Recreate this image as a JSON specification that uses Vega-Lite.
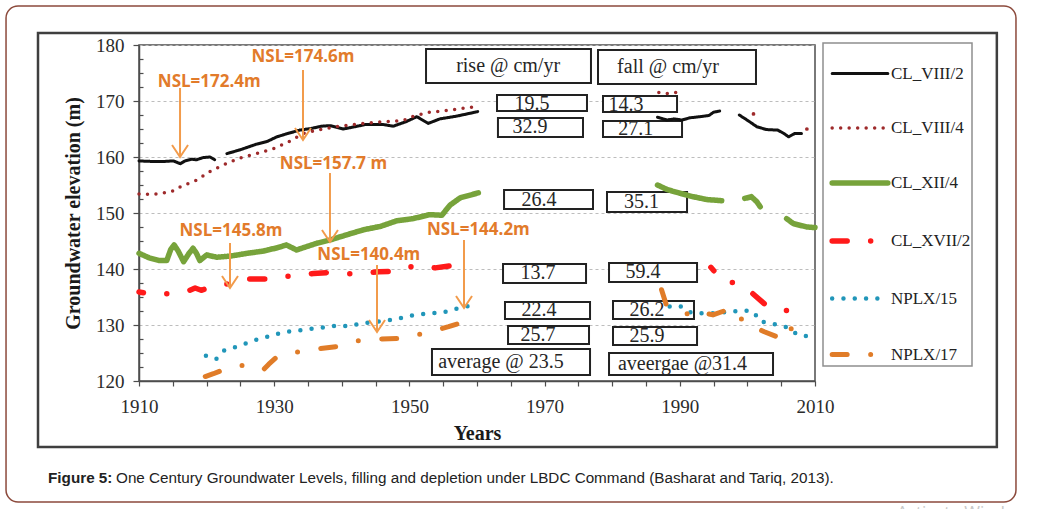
{
  "$schema": "https://vega.github.io/schema/vega-lite/v6.json",
  "width": 676,
  "height": 336,
  "autosize": {"type": "none"},
  "padding": {"left": 139, "top": 45, "right": 228, "bottom": 128},
  "background": "white",
  "datasets": {
    "levels": [
      {"well": "CL_VIII/2", "run": 1, "year": 1910, "level": 159.3},
      {"well": "CL_VIII/2", "run": 1, "year": 1912, "level": 159.2},
      {"well": "CL_VIII/2", "run": 1, "year": 1913.6, "level": 159.2},
      {"well": "CL_VIII/2", "run": 1, "year": 1915.1, "level": 159.3},
      {"well": "CL_VIII/2", "run": 1, "year": 1916.1, "level": 158.8},
      {"well": "CL_VIII/2", "run": 1, "year": 1916.8, "level": 159.3},
      {"well": "CL_VIII/2", "run": 1, "year": 1917.8, "level": 159.6},
      {"well": "CL_VIII/2", "run": 1, "year": 1918.5, "level": 159.5},
      {"well": "CL_VIII/2", "run": 1, "year": 1919.5, "level": 159.9},
      {"well": "CL_VIII/2", "run": 1, "year": 1920.5, "level": 160.0},
      {"well": "CL_VIII/2", "run": 1, "year": 1921.2, "level": 159.5},
      {"well": "CL_VIII/2", "run": 2, "year": 1923, "level": 160.6},
      {"well": "CL_VIII/2", "run": 2, "year": 1925, "level": 161.3},
      {"well": "CL_VIII/2", "run": 2, "year": 1927.4, "level": 162.3},
      {"well": "CL_VIII/2", "run": 2, "year": 1929, "level": 162.8},
      {"well": "CL_VIII/2", "run": 2, "year": 1930.4, "level": 163.6},
      {"well": "CL_VIII/2", "run": 2, "year": 1932, "level": 164.2},
      {"well": "CL_VIII/2", "run": 2, "year": 1933.8, "level": 164.8},
      {"well": "CL_VIII/2", "run": 2, "year": 1935.5, "level": 165.1},
      {"well": "CL_VIII/2", "run": 2, "year": 1937, "level": 165.5},
      {"well": "CL_VIII/2", "run": 2, "year": 1938.3, "level": 165.6},
      {"well": "CL_VIII/2", "run": 2, "year": 1940.2, "level": 165.0},
      {"well": "CL_VIII/2", "run": 2, "year": 1941.5, "level": 165.3},
      {"well": "CL_VIII/2", "run": 2, "year": 1943.5, "level": 165.8},
      {"well": "CL_VIII/2", "run": 2, "year": 1946.1, "level": 165.8},
      {"well": "CL_VIII/2", "run": 2, "year": 1947.6, "level": 165.5},
      {"well": "CL_VIII/2", "run": 2, "year": 1949.5, "level": 166.3},
      {"well": "CL_VIII/2", "run": 2, "year": 1951.1, "level": 167.2},
      {"well": "CL_VIII/2", "run": 2, "year": 1952.8, "level": 166.0},
      {"well": "CL_VIII/2", "run": 2, "year": 1954.5, "level": 166.8},
      {"well": "CL_VIII/2", "run": 2, "year": 1957, "level": 167.3},
      {"well": "CL_VIII/2", "run": 2, "year": 1960.1, "level": 168.1},
      {"well": "CL_VIII/2", "run": 3, "year": 1986.7, "level": 167.1},
      {"well": "CL_VIII/2", "run": 3, "year": 1988.1, "level": 166.6},
      {"well": "CL_VIII/2", "run": 3, "year": 1989.2, "level": 166.8},
      {"well": "CL_VIII/2", "run": 3, "year": 1990.3, "level": 166.6},
      {"well": "CL_VIII/2", "run": 3, "year": 1991.5, "level": 167.0},
      {"well": "CL_VIII/2", "run": 3, "year": 1993, "level": 167.2},
      {"well": "CL_VIII/2", "run": 3, "year": 1994.3, "level": 167.4},
      {"well": "CL_VIII/2", "run": 3, "year": 1995, "level": 168.0},
      {"well": "CL_VIII/2", "run": 3, "year": 1995.9, "level": 168.2},
      {"well": "CL_VIII/2", "run": 4, "year": 1998.8, "level": 167.5},
      {"well": "CL_VIII/2", "run": 4, "year": 2000.2, "level": 166.4},
      {"well": "CL_VIII/2", "run": 4, "year": 2001.4, "level": 165.4},
      {"well": "CL_VIII/2", "run": 4, "year": 2002.8, "level": 164.9},
      {"well": "CL_VIII/2", "run": 4, "year": 2004.5, "level": 164.8},
      {"well": "CL_VIII/2", "run": 4, "year": 2005.4, "level": 164.2},
      {"well": "CL_VIII/2", "run": 4, "year": 2006.1, "level": 163.6},
      {"well": "CL_VIII/2", "run": 4, "year": 2007, "level": 164.2},
      {"well": "CL_VIII/2", "run": 4, "year": 2008, "level": 164.2},

      {"well": "CL_VIII/4", "run": 1, "year": 1910, "level": 153.4},
      {"well": "CL_VIII/4", "run": 1, "year": 1912, "level": 153.3},
      {"well": "CL_VIII/4", "run": 1, "year": 1914.8, "level": 153.8},
      {"well": "CL_VIII/4", "run": 1, "year": 1916.3, "level": 154.8},
      {"well": "CL_VIII/4", "run": 1, "year": 1918.8, "level": 156.0},
      {"well": "CL_VIII/4", "run": 1, "year": 1920, "level": 157.1},
      {"well": "CL_VIII/4", "run": 1, "year": 1922.5, "level": 158.6},
      {"well": "CL_VIII/4", "run": 1, "year": 1924.9, "level": 159.8},
      {"well": "CL_VIII/4", "run": 1, "year": 1927.4, "level": 160.6},
      {"well": "CL_VIII/4", "run": 1, "year": 1929.9, "level": 161.5},
      {"well": "CL_VIII/4", "run": 1, "year": 1932.1, "level": 162.7},
      {"well": "CL_VIII/4", "run": 1, "year": 1934.3, "level": 164.2},
      {"well": "CL_VIII/4", "run": 1, "year": 1936.8, "level": 164.9},
      {"well": "CL_VIII/4", "run": 1, "year": 1939.2, "level": 165.4},
      {"well": "CL_VIII/4", "run": 1, "year": 1943.2, "level": 166.0},
      {"well": "CL_VIII/4", "run": 1, "year": 1946.1, "level": 166.3},
      {"well": "CL_VIII/4", "run": 1, "year": 1949.1, "level": 166.5},
      {"well": "CL_VIII/4", "run": 1, "year": 1950.6, "level": 167.3},
      {"well": "CL_VIII/4", "run": 1, "year": 1953, "level": 168.0},
      {"well": "CL_VIII/4", "run": 1, "year": 1955.5, "level": 168.3},
      {"well": "CL_VIII/4", "run": 1, "year": 1958, "level": 168.7},
      {"well": "CL_VIII/4", "run": 1, "year": 1960.2, "level": 169.0},
      {"well": "CL_VIII/4", "run": 2, "year": 1986.9, "level": 171.5},
      {"well": "CL_VIII/4", "run": 2, "year": 1988.3, "level": 171.3},
      {"well": "CL_VIII/4", "run": 2, "year": 1989.7, "level": 171.6},

      {"well": "CL_XII/4", "run": 1, "year": 1910, "level": 142.8},
      {"well": "CL_XII/4", "run": 1, "year": 1911.5, "level": 142.0},
      {"well": "CL_XII/4", "run": 1, "year": 1913, "level": 141.5},
      {"well": "CL_XII/4", "run": 1, "year": 1914.1, "level": 141.5},
      {"well": "CL_XII/4", "run": 1, "year": 1914.7, "level": 143.5},
      {"well": "CL_XII/4", "run": 1, "year": 1915.2, "level": 144.3},
      {"well": "CL_XII/4", "run": 1, "year": 1915.8, "level": 143.2},
      {"well": "CL_XII/4", "run": 1, "year": 1916.6, "level": 141.3},
      {"well": "CL_XII/4", "run": 1, "year": 1917.4, "level": 142.8},
      {"well": "CL_XII/4", "run": 1, "year": 1918.0, "level": 143.7},
      {"well": "CL_XII/4", "run": 1, "year": 1918.5, "level": 142.8},
      {"well": "CL_XII/4", "run": 1, "year": 1919.0, "level": 141.5},
      {"well": "CL_XII/4", "run": 1, "year": 1920, "level": 142.5},
      {"well": "CL_XII/4", "run": 1, "year": 1921.5, "level": 142.1},
      {"well": "CL_XII/4", "run": 1, "year": 1923.5, "level": 142.3},
      {"well": "CL_XII/4", "run": 1, "year": 1926, "level": 142.8},
      {"well": "CL_XII/4", "run": 1, "year": 1928.4, "level": 143.2},
      {"well": "CL_XII/4", "run": 1, "year": 1930.5, "level": 143.8},
      {"well": "CL_XII/4", "run": 1, "year": 1931.8, "level": 144.3},
      {"well": "CL_XII/4", "run": 1, "year": 1933.3, "level": 143.4},
      {"well": "CL_XII/4", "run": 1, "year": 1936.3, "level": 144.6},
      {"well": "CL_XII/4", "run": 1, "year": 1938.3, "level": 145.2},
      {"well": "CL_XII/4", "run": 1, "year": 1940.7, "level": 146.1},
      {"well": "CL_XII/4", "run": 1, "year": 1943.2, "level": 147.0},
      {"well": "CL_XII/4", "run": 1, "year": 1945.7, "level": 147.6},
      {"well": "CL_XII/4", "run": 1, "year": 1948.1, "level": 148.6},
      {"well": "CL_XII/4", "run": 1, "year": 1950.6, "level": 149.0},
      {"well": "CL_XII/4", "run": 1, "year": 1953, "level": 149.7},
      {"well": "CL_XII/4", "run": 1, "year": 1954.8, "level": 149.6},
      {"well": "CL_XII/4", "run": 1, "year": 1956, "level": 151.4},
      {"well": "CL_XII/4", "run": 1, "year": 1957.5, "level": 152.7},
      {"well": "CL_XII/4", "run": 1, "year": 1960.2, "level": 153.6},
      {"well": "CL_XII/4", "run": 2, "year": 1986.7, "level": 155.0},
      {"well": "CL_XII/4", "run": 2, "year": 1988.1, "level": 154.2},
      {"well": "CL_XII/4", "run": 2, "year": 1990.1, "level": 153.5},
      {"well": "CL_XII/4", "run": 2, "year": 1992, "level": 152.9},
      {"well": "CL_XII/4", "run": 2, "year": 1994, "level": 152.4},
      {"well": "CL_XII/4", "run": 2, "year": 1996.2, "level": 152.2},
      {"well": "CL_XII/4", "run": 3, "year": 1999.6, "level": 152.6},
      {"well": "CL_XII/4", "run": 3, "year": 2000.6, "level": 152.9},
      {"well": "CL_XII/4", "run": 3, "year": 2001.4, "level": 152.0},
      {"well": "CL_XII/4", "run": 3, "year": 2001.9, "level": 151.1},
      {"well": "CL_XII/4", "run": 4, "year": 2005.8, "level": 149.0},
      {"well": "CL_XII/4", "run": 4, "year": 2006.8, "level": 148.1},
      {"well": "CL_XII/4", "run": 4, "year": 2008.8, "level": 147.5},
      {"well": "CL_XII/4", "run": 4, "year": 2010, "level": 147.4},

      {"well": "CL_XVII/2", "run": 1, "year": 1910, "level": 135.9},
      {"well": "CL_XVII/2", "run": 1, "year": 1911.8, "level": 135.5},
      {"well": "CL_XVII/2", "run": 1, "year": 1914.6, "level": 135.6},
      {"well": "CL_XVII/2", "run": 1, "year": 1917.3, "level": 136.1},
      {"well": "CL_XVII/2", "run": 1, "year": 1918.3, "level": 136.6},
      {"well": "CL_XVII/2", "run": 1, "year": 1919.2, "level": 136.2},
      {"well": "CL_XVII/2", "run": 1, "year": 1920, "level": 136.5},
      {"well": "CL_XVII/2", "run": 1, "year": 1923, "level": 137.3},
      {"well": "CL_XVII/2", "run": 1, "year": 1925.9, "level": 138.2},
      {"well": "CL_XVII/2", "run": 1, "year": 1929.4, "level": 138.2},
      {"well": "CL_XVII/2", "run": 1, "year": 1932.6, "level": 138.8},
      {"well": "CL_XVII/2", "run": 1, "year": 1935.8, "level": 139.2},
      {"well": "CL_XVII/2", "run": 1, "year": 1938.4, "level": 139.4},
      {"well": "CL_XVII/2", "run": 1, "year": 1942, "level": 139.1},
      {"well": "CL_XVII/2", "run": 1, "year": 1945.5, "level": 139.5},
      {"well": "CL_XVII/2", "run": 1, "year": 1948.2, "level": 139.6},
      {"well": "CL_XVII/2", "run": 1, "year": 1950.8, "level": 140.6},
      {"well": "CL_XVII/2", "run": 1, "year": 1953.8, "level": 140.2},
      {"well": "CL_XVII/2", "run": 1, "year": 1956.8, "level": 140.7},
      {"well": "CL_XVII/2", "run": 2, "year": 1994.6, "level": 140.3},
      {"well": "CL_XVII/2", "run": 2, "year": 1996.4, "level": 137.8},
      {"well": "CL_XVII/2", "run": 2, "year": 1997.6, "level": 137.7},
      {"well": "CL_XVII/2", "run": 2, "year": 2000.4, "level": 136.0},
      {"well": "CL_XVII/2", "run": 2, "year": 2002.7, "level": 133.6},
      {"well": "CL_XVII/2", "run": 2, "year": 2005.6, "level": 132.6},
      {"well": "CL_XVII/2", "run": 2, "year": 2008.4, "level": 132.5},
      {"well": "CL_XVII/2", "run": 2, "year": 2009, "level": 131.9},

      {"well": "NPLX/15", "run": 1, "year": 1919.9, "level": 124.5},
      {"well": "NPLX/15", "run": 1, "year": 1921.4, "level": 123.9},
      {"well": "NPLX/15", "run": 1, "year": 1922.5, "level": 125.4},
      {"well": "NPLX/15", "run": 1, "year": 1924.1, "level": 126.0},
      {"well": "NPLX/15", "run": 1, "year": 1925.8, "level": 126.7},
      {"well": "NPLX/15", "run": 1, "year": 1927.4, "level": 127.4},
      {"well": "NPLX/15", "run": 1, "year": 1929, "level": 127.9},
      {"well": "NPLX/15", "run": 1, "year": 1930.7, "level": 128.5},
      {"well": "NPLX/15", "run": 1, "year": 1932.5, "level": 128.9},
      {"well": "NPLX/15", "run": 1, "year": 1934.2, "level": 129.1},
      {"well": "NPLX/15", "run": 1, "year": 1935.9, "level": 129.4},
      {"well": "NPLX/15", "run": 1, "year": 1937.6, "level": 129.6},
      {"well": "NPLX/15", "run": 1, "year": 1939.4, "level": 129.9},
      {"well": "NPLX/15", "run": 1, "year": 1941.1, "level": 129.8},
      {"well": "NPLX/15", "run": 1, "year": 1942.8, "level": 130.3},
      {"well": "NPLX/15", "run": 1, "year": 1944.7, "level": 130.5},
      {"well": "NPLX/15", "run": 1, "year": 1946.4, "level": 130.8},
      {"well": "NPLX/15", "run": 1, "year": 1948, "level": 131.0},
      {"well": "NPLX/15", "run": 1, "year": 1949.7, "level": 131.6},
      {"well": "NPLX/15", "run": 1, "year": 1951.5, "level": 131.9},
      {"well": "NPLX/15", "run": 1, "year": 1953.2, "level": 132.1},
      {"well": "NPLX/15", "run": 1, "year": 1954.9, "level": 132.2},
      {"well": "NPLX/15", "run": 1, "year": 1956.5, "level": 132.8},
      {"well": "NPLX/15", "run": 1, "year": 1960, "level": 133.7},
      {"well": "NPLX/15", "run": 2, "year": 1988.5, "level": 133.3},
      {"well": "NPLX/15", "run": 2, "year": 1990, "level": 133.4},
      {"well": "NPLX/15", "run": 2, "year": 1991.8, "level": 132.1},
      {"well": "NPLX/15", "run": 2, "year": 1994.9, "level": 132.1},
      {"well": "NPLX/15", "run": 2, "year": 1997.9, "level": 132.4},
      {"well": "NPLX/15", "run": 2, "year": 1999.4, "level": 132.6},
      {"well": "NPLX/15", "run": 2, "year": 2000.9, "level": 132.4},
      {"well": "NPLX/15", "run": 2, "year": 2001.9, "level": 130.6},
      {"well": "NPLX/15", "run": 2, "year": 2003.1, "level": 130.4},
      {"well": "NPLX/15", "run": 2, "year": 2005.8, "level": 129.6},
      {"well": "NPLX/15", "run": 2, "year": 2007.5, "level": 128.2},
      {"well": "NPLX/15", "run": 2, "year": 2009.6, "level": 127.9},

      {"well": "NPLX/17", "run": 1, "year": 1919.8, "level": 120.8},
      {"well": "NPLX/17", "run": 1, "year": 1921, "level": 121.3},
      {"well": "NPLX/17", "run": 1, "year": 1922.7, "level": 122.1},
      {"well": "NPLX/17", "run": 1, "year": 1925.7, "level": 122.9},
      {"well": "NPLX/17", "run": 1, "year": 1928.4, "level": 122.0},
      {"well": "NPLX/17", "run": 1, "year": 1929.2, "level": 123.0},
      {"well": "NPLX/17", "run": 1, "year": 1930.4, "level": 124.3},
      {"well": "NPLX/17", "run": 1, "year": 1933.6, "level": 125.2},
      {"well": "NPLX/17", "run": 1, "year": 1936.8, "level": 125.8},
      {"well": "NPLX/17", "run": 1, "year": 1939.7, "level": 126.2},
      {"well": "NPLX/17", "run": 1, "year": 1942.7, "level": 127.3},
      {"well": "NPLX/17", "run": 1, "year": 1945.9, "level": 127.5},
      {"well": "NPLX/17", "run": 1, "year": 1948.9, "level": 127.6},
      {"well": "NPLX/17", "run": 1, "year": 1952.1, "level": 128.5},
      {"well": "NPLX/17", "run": 1, "year": 1955.8, "level": 129.7},
      {"well": "NPLX/17", "run": 1, "year": 1958.7, "level": 130.8},
      {"well": "NPLX/17", "run": 2, "year": 1987.3, "level": 136.3},
      {"well": "NPLX/17", "run": 2, "year": 1988, "level": 133.6},
      {"well": "NPLX/17", "run": 2, "year": 1989.4, "level": 132.8},
      {"well": "NPLX/17", "run": 2, "year": 1992.2, "level": 131.5},
      {"well": "NPLX/17", "run": 2, "year": 1993.4, "level": 132.2},
      {"well": "NPLX/17", "run": 2, "year": 1994.9, "level": 131.8},
      {"well": "NPLX/17", "run": 2, "year": 1997.7, "level": 133.0},
      {"well": "NPLX/17", "run": 2, "year": 1999.6, "level": 130.4},
      {"well": "NPLX/17", "run": 2, "year": 2002.5, "level": 128.8},
      {"well": "NPLX/17", "run": 2, "year": 2005.6, "level": 127.3},
      {"well": "NPLX/17", "run": 2, "year": 2006.5, "level": 129.4},
      {"well": "NPLX/17", "run": 2, "year": 2007.3, "level": 128.8}
    ],
    "lone": [
      {"well": "CL_VIII/4", "year": 2000.9, "level": 167.7},
      {"well": "CL_VIII/4", "year": 2008.8, "level": 165.0}
    ],
    "rates": [
      {"label": "rise @ cm/yr", "x1": 1952.46, "x2": 1976.86, "y1": 179.29, "y2": 173.21, "tx": 1964.6, "ty": 176.25},
      {"label": "fall @ cm/yr", "x1": 1977.9, "x2": 2001.27, "y1": 179.11, "y2": 173.04, "tx": 1988.25, "ty": 176.07},
      {"label": "19.5", "x1": 1962.96, "x2": 1976.27, "y1": 171.07, "y2": 168.21, "tx": 1968.14, "ty": 169.5},
      {"label": "32.9", "x1": 1963.1, "x2": 1975.68, "y1": 166.96, "y2": 163.57, "tx": 1967.84, "ty": 165.27},
      {"label": "26.4", "x1": 1964.0, "x2": 1977.16, "y1": 154.11, "y2": 150.71, "tx": 1969.17, "ty": 152.41},
      {"label": "13.7", "x1": 1963.85, "x2": 1976.13, "y1": 140.89, "y2": 137.5, "tx": 1969.02, "ty": 139.2},
      {"label": "22.4", "x1": 1964.14, "x2": 1976.72, "y1": 134.11, "y2": 131.07, "tx": 1969.17, "ty": 132.59},
      {"label": "25.7", "x1": 1964.59, "x2": 1976.57, "y1": 129.82, "y2": 126.61, "tx": 1969.02, "ty": 128.21},
      {"label": "average @ 23.5", "x1": 1953.34, "x2": 1976.72, "y1": 125.71, "y2": 121.07, "tx": 1963.55, "ty": 123.39},
      {"label": "14.3", "x1": 1978.64, "x2": 1989.59, "y1": 170.89, "y2": 168.04, "tx": 1982.04, "ty": 169.32},
      {"label": "27.1", "x1": 1978.64, "x2": 1990.33, "y1": 166.43, "y2": 163.57, "tx": 1983.5, "ty": 165.0},
      {"label": "35.1", "x1": 1979.23, "x2": 1991.07, "y1": 153.75, "y2": 150.18, "tx": 1984.33, "ty": 151.96},
      {"label": "59.4", "x1": 1979.53, "x2": 1992.55, "y1": 141.07, "y2": 137.68, "tx": 1984.56, "ty": 139.38},
      {"label": "26.2", "x1": 1980.12, "x2": 1992.1, "y1": 134.29, "y2": 131.07, "tx": 1985.15, "ty": 132.68},
      {"label": "25.9", "x1": 1980.12, "x2": 1992.55, "y1": 129.64, "y2": 126.43, "tx": 1985.15, "ty": 128.04},
      {"label": "aveergae @31.4", "x1": 1979.53, "x2": 2003.79, "y1": 125.0, "y2": 121.07, "tx": 1990.4, "ty": 123.04}
    ],
    "nsl": [
      {"label": "NSL=172.4m", "tx": 1920.4, "ty": 173.4, "ax": 1916.07, "top": 172.32, "tip": 160.0},
      {"label": "NSL=174.6m", "tx": 1934.26, "ty": 177.86, "ax": 1934.26, "top": 175.54, "tip": 163.04},
      {"label": "NSL=157.7 m", "tx": 1938.77, "ty": 158.75, "ax": 1938.25, "top": 157.14, "tip": 144.82},
      {"label": "NSL=145.8m", "tx": 1923.6, "ty": 146.79, "ax": 1923.46, "top": 144.64, "tip": 136.61},
      {"label": "NSL=140.4m", "tx": 1944.0, "ty": 142.5, "ax": 1945.21, "top": 140.71, "tip": 128.75},
      {"label": "NSL=144.2m", "tx": 1960.2, "ty": 146.96, "ax": 1958.08, "top": 145.18, "tip": 133.04}
    ]
  },
  "layer": [
    {
      "description": "outer rounded border of the figure",
      "data": {"values": [{}]},
      "mark": {"type": "rect", "filled": false, "stroke": "#8c4a3c", "strokeWidth": 1.5, "cornerRadius": 12},
      "encoding": {
        "x": {"datum": 1890.33, "type": "quantitative", "axis": null},
        "x2": {"datum": 2039.73},
        "y": {"datum": 186.96, "type": "quantitative", "axis": null},
        "y2": {"datum": 98.39}
      }
    },
    {
      "description": "frame of the chart panel",
      "data": {"values": [{}]},
      "mark": {"type": "rect", "filled": false, "stroke": "#3f3f3f", "strokeWidth": 2.5},
      "encoding": {
        "x": {"datum": 1895.06, "type": "quantitative", "axis": null},
        "x2": {"datum": 2036.9},
        "y": {"datum": 182.14, "type": "quantitative", "axis": null},
        "y2": {"datum": 108.2}
      }
    },
    {
      "data": {"values": [{}]},
      "mark": {"type": "text", "text": "Figure 5:", "font": "Liberation Sans", "fontSize": 15.25, "fontWeight": "bold", "color": "#222222", "align": "left", "baseline": "middle"},
      "encoding": {
        "x": {"datum": 1896.54, "type": "quantitative", "axis": null},
        "y": {"datum": 102.68, "type": "quantitative", "axis": null}
      }
    },
    {
      "data": {"values": [{}]},
      "mark": {"type": "text", "text": "One Century Groundwater Levels, filling and depletion under LBDC Command (Basharat and Tariq, 2013).", "font": "Liberation Sans", "fontSize": 15.25, "color": "#222222", "align": "left", "baseline": "middle"},
      "encoding": {
        "x": {"datum": 1906.6, "type": "quantitative", "axis": null},
        "y": {"datum": 102.68, "type": "quantitative", "axis": null}
      }
    },
    {
      "data": {"values": [{}]},
      "mark": {"type": "text", "text": "Activate Windows", "font": "Open Sans", "fontSize": 17, "color": "#c8c8c8", "align": "left", "baseline": "alphabetic"},
      "encoding": {
        "x": {"datum": 2022.13, "type": "quantitative", "axis": null},
        "y": {"datum": 95.54, "type": "quantitative", "axis": null}
      }
    },
    {
      "data": {"name": "rates"},
      "mark": {"type": "rect", "fill": "white", "stroke": "#222222", "strokeWidth": 2},
      "encoding": {
        "x": {"field": "x1", "type": "quantitative", "axis": null},
        "x2": {"field": "x2"},
        "y": {"field": "y1", "type": "quantitative", "axis": null},
        "y2": {"field": "y2"}
      }
    },
    {
      "data": {"name": "rates"},
      "mark": {"type": "text", "font": "Liberation Serif", "fontSize": 20, "color": "#262626", "align": "center", "baseline": "middle"},
      "encoding": {
        "x": {"field": "tx", "type": "quantitative", "axis": null},
        "y": {"field": "ty", "type": "quantitative", "axis": null},
        "text": {"field": "label"}
      }
    },
    {
      "description": "well hydrographs except CL_XVII/2",
      "data": {"name": "levels"},
      "transform": [{"filter": "datum.well !== 'CL_XVII/2'"}],
      "mark": {"type": "line", "strokeCap": "round", "strokeJoin": "round"},
      "encoding": {
        "x": {
          "field": "year", "type": "quantitative",
          "scale": {"domain": [1910, 2010], "nice": false, "zero": false},
          "axis": {
            "title": "Years",
            "values": [1910, 1915, 1920, 1925, 1930, 1935, 1940, 1945, 1950, 1955, 1960, 1965, 1970, 1975, 1980, 1985, 1990, 1995, 2000, 2005, 2010],
            "format": "d",
            "labelExpr": "(datum.value - 1910) % 20 === 0 ? datum.label : ''",
            "labelOverlap": false, "labelFlush": false,
            "tickSize": 5, "labelPadding": 11, "grid": false, "titlePadding": 7
          }
        },
        "y": {
          "field": "level", "type": "quantitative",
          "scale": {"domain": [120, 180], "nice": false, "zero": false},
          "axis": {
            "title": "Groundwater elevation (m)",
            "values": [120, 130, 140, 150, 160, 170, 180],
            "labelOverlap": false, "labelFlush": false,
            "tickSize": 6, "labelPadding": 9, "titlePadding": 12,
            "grid": true, "gridColor": "#bdbdbd", "gridDash": [3, 3], "gridWidth": 1
          }
        },
        "color": {
          "field": "well", "type": "nominal",
          "scale": {
            "domain": ["CL_VIII/2", "CL_VIII/4", "CL_XII/4", "CL_XVII/2", "NPLX/15", "NPLX/17"],
            "range": ["#111111", "#9e2a2b", "#77a33b", "#ff1a1a", "#2196b9", "#e07c28"]
          },
          "legend": {
            "title": null, "orient": "none", "legendX": 684, "legendY": -2,
            "encode": {"symbols": {"update": {"strokeCap": {"value": "round"}}}}
          }
        },
        "strokeDash": {
          "field": "well", "type": "nominal",
          "scale": {
            "domain": ["CL_VIII/2", "CL_VIII/4", "CL_XII/4", "CL_XVII/2", "NPLX/15", "NPLX/17"],
            "range": [[1, 0], [0, 8.5], [1, 0], [15, 23.5, 0, 23.5], [0, 11.3], [15, 23.5, 0, 23.5]]
          },
          "legend": {"title": null, "orient": "none", "legendX": 684, "legendY": -2}
        },
        "strokeWidth": {
          "field": "well", "type": "nominal",
          "scale": {
            "type": "ordinal",
            "domain": ["CL_VIII/2", "CL_VIII/4", "CL_XII/4", "CL_XVII/2", "NPLX/15", "NPLX/17"],
            "range": [3, 3.5, 5.5, 5.5, 4.5, 5]
          },
          "legend": {"title": null, "orient": "none", "legendX": 684, "legendY": -2}
        },
        "detail": {"field": "run", "type": "nominal"}
      }
    },
    {
      "description": "CL_XVII/2 drawn with its dash pattern shifted",
      "data": {"name": "levels"},
      "transform": [{"filter": "datum.well === 'CL_XVII/2'"}],
      "mark": {"type": "line", "strokeCap": "round", "strokeJoin": "round", "strokeDashOffset": 10.5},
      "encoding": {
        "x": {"field": "year", "type": "quantitative", "axis": null},
        "y": {"field": "level", "type": "quantitative", "axis": null},
        "color": {
          "field": "well", "type": "nominal", "legend": null,
          "scale": {
            "domain": ["CL_VIII/2", "CL_VIII/4", "CL_XII/4", "CL_XVII/2", "NPLX/15", "NPLX/17"],
            "range": ["#111111", "#9e2a2b", "#77a33b", "#ff1a1a", "#2196b9", "#e07c28"]
          }
        },
        "strokeDash": {
          "field": "well", "type": "nominal", "legend": null,
          "scale": {
            "domain": ["CL_VIII/2", "CL_VIII/4", "CL_XII/4", "CL_XVII/2", "NPLX/15", "NPLX/17"],
            "range": [[1, 0], [0, 8.5], [1, 0], [15, 23.5, 0, 23.5], [0, 11.3], [15, 23.5, 0, 23.5]]
          }
        },
        "strokeWidth": {
          "field": "well", "type": "nominal", "legend": null,
          "scale": {
            "type": "ordinal",
            "domain": ["CL_VIII/2", "CL_VIII/4", "CL_XII/4", "CL_XVII/2", "NPLX/15", "NPLX/17"],
            "range": [3, 3.5, 5.5, 5.5, 4.5, 5]
          }
        },
        "detail": {"field": "run", "type": "nominal"}
      }
    },
    {
      "description": "isolated CL_VIII/4 readings; this layer also carries the inner minor ticks",
      "data": {"name": "lone"},
      "mark": {"type": "circle", "color": "#9e2a2b", "size": 14, "opacity": 1},
      "encoding": {
        "x": {"field": "year", "type": "quantitative", "axis": null},
        "y": {
          "field": "level", "type": "quantitative",
          "axis": {
            "orient": "left", "title": null, "labels": false, "domain": false, "grid": false,
            "values": [122.5, 125, 127.5, 132.5, 135, 137.5, 142.5, 145, 147.5, 152.5, 155, 157.5, 162.5, 165, 167.5, 172.5, 175, 177.5],
            "tickSize": 4, "offset": -4
          }
        }
      }
    },
    {
      "data": {"name": "nsl"},
      "mark": {"type": "rule", "color": "#f29b4b", "strokeWidth": 2},
      "encoding": {
        "x": {"field": "ax", "type": "quantitative", "axis": null},
        "y": {"field": "top", "type": "quantitative", "axis": null},
        "y2": {"field": "tip"}
      }
    },
    {
      "data": {"name": "nsl"},
      "mark": {"type": "point", "shape": "M-1,-1.5L0,0L1,-1.5", "filled": false, "color": "#f29b4b", "strokeWidth": 2, "size": 256, "opacity": 1},
      "encoding": {
        "x": {"field": "ax", "type": "quantitative", "axis": null},
        "y": {"field": "tip", "type": "quantitative", "axis": null}
      }
    },
    {
      "data": {"name": "nsl"},
      "mark": {"type": "text", "font": "Open Sans", "fontSize": 17, "fontWeight": "bold", "color": "#e27b2b", "align": "center", "baseline": "middle"},
      "encoding": {
        "x": {"field": "tx", "type": "quantitative", "axis": null},
        "y": {"field": "ty", "type": "quantitative", "axis": null},
        "text": {"field": "label"}
      }
    }
  ],
  "resolve": {"axis": {"x": "independent", "y": "independent"}},
  "config": {
    "view": {"stroke": "#4d4d4d", "strokeWidth": 1.5},
    "axis": {
      "domainColor": "#4d4d4d", "domainWidth": 1.5,
      "tickColor": "#4d4d4d", "tickWidth": 1.2,
      "labelFont": "Liberation Serif", "labelFontSize": 19, "labelColor": "#2b2b2b",
      "titleFont": "Liberation Serif", "titleFontSize": 20, "titleFontWeight": "bold", "titleColor": "#1a1a1a"
    },
    "legend": {
      "fillColor": "white", "strokeColor": "#8f8f8f", "strokeWidth": 1.5,
      "padding": 1, "symbolOffset": 5, "symbolType": "stroke", "symbolSize": 3100,
      "labelFont": "Liberation Serif", "labelFontSize": 17, "labelColor": "#222222", "labelOffset": 0,
      "rowPadding": 16
    }
  }
}
